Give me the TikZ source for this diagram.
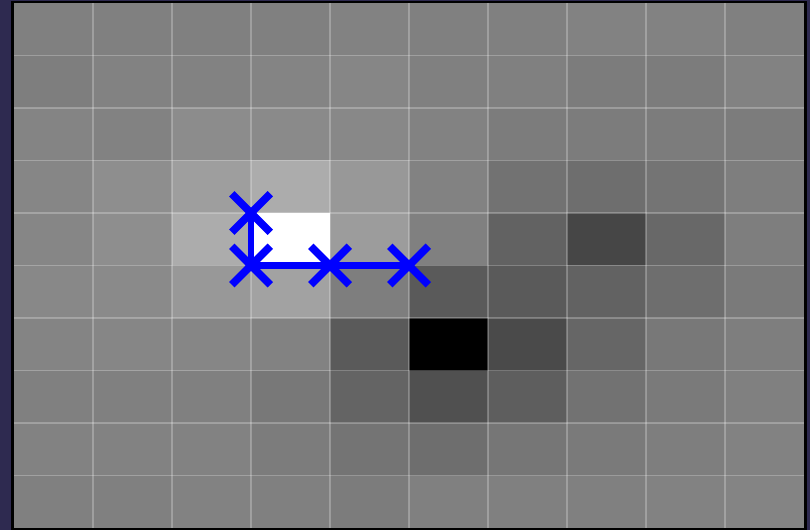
\documentclass[tikz,border=0pt]{standalone}
\usetikzlibrary{shapes.misc, positioning}

\begin{document}
\begin{tikzpicture}[x=1bp, y=-1bp,
  marca/.style={cross out, draw=blue, line width=7.5bp, minimum size=31bp, inner sep=0pt},
  rejilla/.style={white, opacity=0.25, line width=1.2bp}]
% Fondo y marco
\fill[fill={rgb,255:red,46;green,42;blue,80}] (0,0) rectangle (810,530);
\fill[black] (11,1) rectangle (807,529.5);
% Celdas en escala de grises
\foreach \fila [count=\r from 0] in {
  {128,128,128,128,130,128,128,130,130,128},
  {126,130,130,132,134,128,128,124,124,130},
  {132,130,140,138,136,130,124,124,124,124},
  {134,142,158,172,152,130,114,110,116,126},
  {134,142,172,255,156,128,98,70,104,126},
  {136,138,152,162,126,90,90,98,110,122},
  {132,134,134,130,90,0,74,102,120,126},
  {128,128,128,120,100,80,94,114,122,128},
  {130,130,130,124,116,110,118,122,126,130},
  {128,128,130,128,124,128,128,128,130,132}} {
  \foreach \v [count=\c from 0] in \fila
    \fill[fill={rgb,255:red,\v;green,\v;blue,\v}] (14+79*\c,3+52.5*\r) rectangle ++(79,52.5);
}
% Rejilla
\foreach \i in {1,...,9} {
  \draw[rejilla] (14+79*\i,3) -- (14+79*\i,528);   % vertical
  \draw[rejilla] (14,3+52.5*\i) -- (804,3+52.5*\i); % horizontal
}
% Marcas y recorrido
\node[marca] (m1) at (251,213) {};
\node[marca] (m2) at (251,265.5) {};
\node[marca] (m3) at (330,265.5) {};
\node[marca] (m4) at (409,265.5) {};
\draw[blue, line width=6.5bp] (m1.center) -- (m2.center) -- (m3.center) -- (m4.center);
\end{tikzpicture}
\end{document}
